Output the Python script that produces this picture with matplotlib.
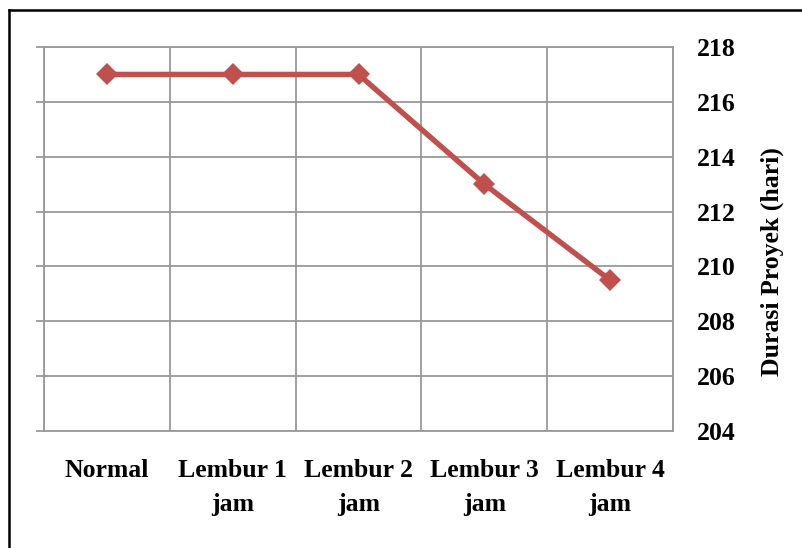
import numpy as np
import matplotlib
matplotlib.use('Agg')
import matplotlib.pyplot as plt
from matplotlib.lines import Line2D

categories = ['Normal', 'Lembur 1\njam', 'Lembur 2\njam', 'Lembur 3\njam', 'Lembur 4\njam']
durasi = [217, 217, 217, 213, 209.5]
yticks = [204, 206, 208, 210, 212, 214, 216, 218]

plt.rcParams['font.family'] = ['Liberation Serif', 'DejaVu Serif']
plt.rcParams['font.weight'] = 'bold'

fig = plt.figure(figsize=(8.02, 5.48), dpi=100)
ax = fig.add_axes([44/802, 1-431/548, (673-44)/802, (431-47)/548])

x = np.arange(len(categories))
ax.plot(x, durasi, color='#C0504D', linewidth=3.9, marker='D', markersize=11,
        markeredgewidth=0, zorder=3)

ax.set_xlim(-0.5, len(categories)-0.5)
ax.set_ylim(204, 218)
ax.set_yticks(yticks)

grid_c = '#999999'
ax.set_xticks(x)
ax.set_xticklabels(categories, fontsize=18.5, fontweight='bold', linespacing=1.6)
ax.set_xticks(np.arange(-0.5, len(categories)), minor=True)
ax.tick_params(axis='x', which='major', length=0, pad=20)
ax.tick_params(axis='x', which='minor', length=0)
ax.grid(True, axis='x', which='minor', color=grid_c, linewidth=1.3)
ax.grid(True, axis='y', which='major', color=grid_c, linewidth=1.3)
ax.tick_params(axis='y', left=True, right=False, labelleft=False, labelright=True,
               direction='out', length=6, width=1.3, color=grid_c, pad=11,
               labelsize=18.5)
for lbl in ax.get_yticklabels():
    lbl.set_fontweight('bold')
for s in ax.spines.values():
    s.set_color(grid_c)
    s.set_linewidth(1.3)

fig.text(772/802, 1-262/548, 'Durasi Proyek (hari)', rotation=90, fontsize=18.5,
         fontweight='bold', ha='center', va='center')

# outer frame (only top and left edges visible)
fig.add_artist(Line2D([8.5/802, 1], [1-9.5/548, 1-9.5/548], color='black', linewidth=1.8,
                      transform=fig.transFigure))
fig.add_artist(Line2D([8.5/802, 8.5/802], [0, 1-9.5/548], color='black', linewidth=1.8,
                      transform=fig.transFigure))

fig.savefig('out.png', dpi=100)
